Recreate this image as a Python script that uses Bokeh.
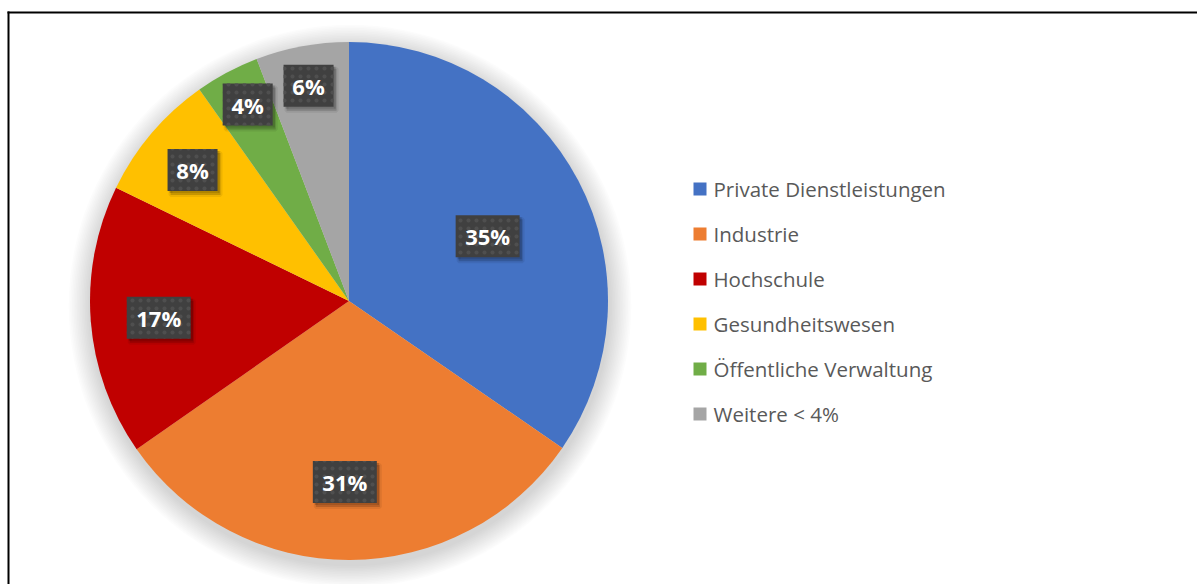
import math
from bokeh.plotting import figure
from bokeh.models import Range1d, ColumnDataSource
from bokeh.embed import file_html
from bokeh.resources import INLINE
from bokeh.core.properties import value

# ---- data ----
categories = ["Private Dienstleistungen", "Industrie", "Hochschule",
              "Gesundheitswesen", "Öffentliche Verwaltung", "Weitere < 4%"]
shares = [34.6, 30.7, 16.9, 8.0, 4.0, 5.8]
labels = ["35%", "31%", "17%", "8%", "4%", "6%"]
colors = ["#4472C4", "#ED7D31", "#C00000", "#FFC000", "#70AD47", "#A5A5A5"]

# ---- layout (pixels; data units == pixels) ----
W, H = 1197, 584
cx, cy, R = 348.5, 283.5, 259.0
label_dist = [153, 181, 191, 204, 221, 219]
label_turn_deg = [2.7, 1.5, -0.5, -0.4, 0.8, -0.2]

p = figure(width=W, height=H, x_range=Range1d(0, W), y_range=Range1d(0, H),
           output_backend="svg", toolbar_location=None, min_border=0,
           x_axis_location=None, y_axis_location=None)
p.grid.visible = False
p.outline_line_color = None
p.background_fill_color = "white"
p.border_fill_color = "white"

# frame (top + left edges visible)
p.line([8, 8], [0, 573], line_color="black", line_width=2)
p.line([7, W], [572, 572], line_color="black", line_width=2)

# soft shadow / glow around pie
n = 14
for k in range(n, 0, -1):
    p.circle(x=cx + 1, y=cy - 5, radius=R + 1.6 * k, fill_color="black",
             fill_alpha=0.011, line_color=None)

# wedges
total = sum(shares)
starts, ends, mids = [], [], []
acc = 0.0
for s in shares:
    a0 = acc / total
    acc += s
    a1 = acc / total
    starts.append(math.pi / 2 - a0 * 2 * math.pi)
    ends.append(math.pi / 2 - a1 * 2 * math.pi)
    mids.append(math.pi / 2 - (a0 + a1) / 2 * 2 * math.pi)

src = ColumnDataSource(dict(start=starts, end=ends, color=colors, cat=categories))
p.wedge(x=cx, y=cy, radius=R, start_angle="start", end_angle="end",
        direction="clock", fill_color="color", line_color=None, source=src)

# data labels
angs = [m - math.radians(t) for m, t in zip(mids, label_turn_deg)]
lx = [cx + d * math.cos(a) for d, a in zip(label_dist, angs)]
ly = [cy + d * math.sin(a) for d, a in zip(label_dist, angs)]
bw = [22 + 14 * len(t) for t in labels]
bh = [42] * len(labels)
lsrc = ColumnDataSource(dict(x=lx, y=ly, w=bw, h=bh, t=labels,
                             sx=[v + 3 for v in lx], sy=[v - 4 for v in ly],
                             sx2=[v + 2 for v in lx], sy2=[v - 2 for v in ly]))
p.rect(x="sx", y="sy", width="w", height="h", fill_color="black", fill_alpha=0.16,
       line_color="black", line_alpha=0.07, line_width=4, source=lsrc)
p.rect(x="sx2", y="sy2", width="w", height="h", fill_color="black", fill_alpha=0.18,
       line_color=None, source=lsrc)
p.rect(x="x", y="y", width="w", height="h", fill_color="#404040", line_color=None,
       hatch_pattern="dot", hatch_color="#4f4f4f", hatch_scale=8, hatch_weight=1.5,
       source=lsrc)
p.text(x="x", y="y", text="t", text_align="center", text_baseline="middle",
       text_color="white", text_font=value("Open Sans"), text_font_style="bold",
       text_font_size="22px", source=lsrc)

# legend
ly0, dy = 395.5, 45
leg_y = [ly0 - i * dy for i in range(len(categories))]
gsrc = ColumnDataSource(dict(y=leg_y, c=colors, t=categories))
p.rect(x=699.5, y="y", width=13, height=13, fill_color="c", line_color=None, source=gsrc)
p.text(x=713, y="y", text="t", text_align="left", text_baseline="middle",
       text_color="#595959", text_font=value("Open Sans"), text_font_size="20.5px",
       source=gsrc)

open("out.html", "w").write(file_html(p, INLINE))
